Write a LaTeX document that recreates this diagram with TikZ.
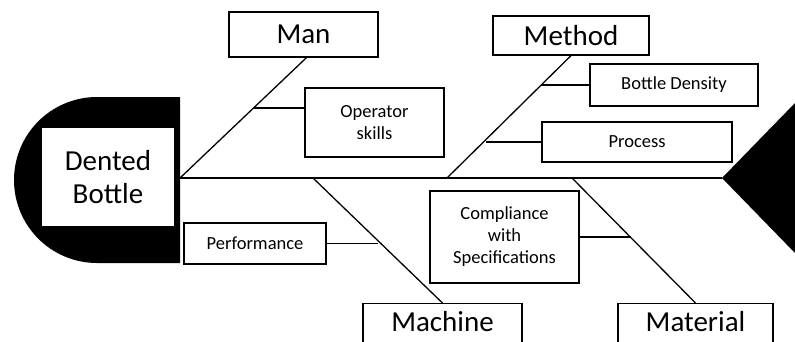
\documentclass[tikz,border=0pt]{standalone}
\usepackage{fontspec}
\setmainfont{Carlito}
\usetikzlibrary{positioning,calc}
\tikzstyle{bigBox}  =[draw, line width=1.2pt, inner sep=0pt, align=center, font=\fontsize{29}{31}\selectfont]
\tikzstyle{causeBox}=[draw, line width=1.2pt, inner sep=0pt, align=center, font=\fontsize{18.5}{22}\selectfont]
\tikzstyle{bone}    =[line width=1.3pt]
\begin{document}
\begin{tikzpicture}[x=1pt,y=-1pt]
        \clip (0,0) rectangle (795,341);
        % head and tail
        \fill (180,97) -- (97,97) arc[start angle=270, end angle=90, radius=83] -- (180,263) -- cycle;
        \node[fill=white, minimum width=132, minimum height=98, align=center, inner sep=0pt, font=\fontsize{29}{33}\selectfont] (head) at (108,177) {Dented\\Bottle};
        \coordinate (spineL) at (180,178);
        \coordinate (spineR) at (722,178);
        \fill (spineR) -- (795,103) -- (795,253) -- cycle;
        \draw[bone] (spineL) -- (spineR);
        % categories
        \node[bigBox, minimum width=149, minimum height=45] (man) at (303.5,34.5) {Man};
        \node[bigBox, minimum width=156, minimum height=39] (method) at (571,35.5) {Method};
        \node[bigBox, minimum width=159, text height=28, text depth=16, anchor=north] (machine) at (442.5,303) {Machine};
        \node[bigBox, minimum width=155, text height=28, text depth=16, anchor=north] (material) at (695.5,303) {Material};
        % causes
        \node[causeBox, minimum width=139, minimum height=69] (ops) at (374.5,122.5) {Operator\\skills};
        \node[causeBox, minimum width=142, minimum height=41] (perf) at (255,243.5) {Performance};
        \node[causeBox, minimum width=168, minimum height=42] (bd) at (674,85) {Bottle Density};
        \node[causeBox, minimum width=190, minimum height=40] (proc) at (637,142) {Process};
        \node[causeBox, minimum width=149, minimum height=92] (comp) at (504.5,237) {Compliance\\with\\Specifications};
        % bones
        \coordinate (manJ) at (180,178);
        \coordinate (methodJ) at (447,178);
        \coordinate (machineJ) at (313,178);
        \coordinate (materialJ) at (572,178);
        \draw[bone] ([xshift=3pt]man.south) -- (manJ);
        \draw[bone] (method.south) -- (methodJ);
        \draw[bone] (machineJ) -- (machine.north);
        \draw[bone] (materialJ) -- (material.north);
        % joints
        \coordinate (opsJ) at (253.5,108);
        \coordinate (bdJ) at (540.5,85);
        \coordinate (procJ) at (486,142);
        \coordinate (perfJ) at (378,243.5);
        \coordinate (compJ) at (631,237);
        \draw[bone] (opsJ) -- (opsJ -| ops.west);
        \draw[bone] (bdJ) -- (bd.west);
        \draw[bone] (procJ) -- (proc.west);
        \draw[bone] (perf.east) -- (perfJ);
        \draw[bone] (comp.east) -- (compJ);
      \end{tikzpicture}
\end{document}
